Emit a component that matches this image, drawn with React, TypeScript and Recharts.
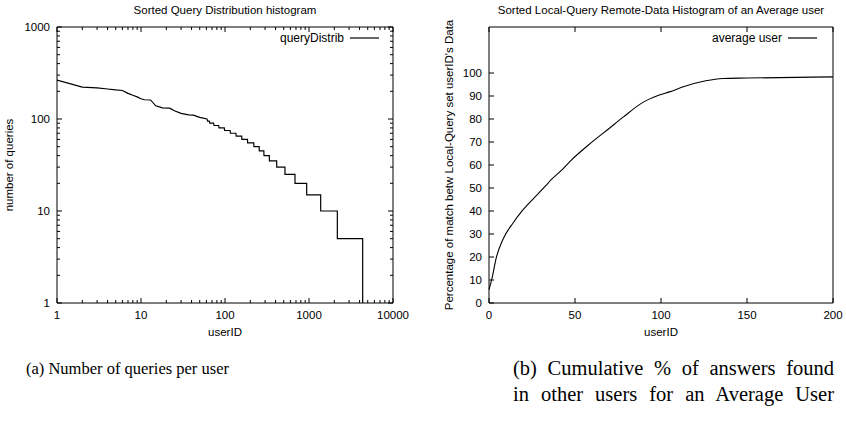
import React from "react";
import { LineChart, Line, XAxis, YAxis, Legend } from "recharts";

const SANS = '"Liberation Sans", Arial, Helvetica, sans-serif';
const SERIF = '"Liberation Serif", "Times New Roman", serif';

// (a) sorted number of queries per user
const headUsers = [1, 2, 3, 4, 5, 6, 7, 8, 9, 10, 11, 13, 15, 18, 22, 25, 30, 37, 42, 50, 61];
const headQueries = [265, 222, 218, 212, 207, 204, 190, 181, 174, 166, 162, 161, 139, 132, 131, 123, 115, 111, 110, 104, 100];
// below 100 the counts come in steps of 5, each held up to a last userID
const stepQueries = [95, 90, 85, 80, 75, 70, 65, 60, 55, 50, 45, 40, 35, 30, 25, 20, 15, 10, 5];
const stepLastUser = [65, 73, 84, 98, 115, 135, 158, 185, 220, 255, 290, 337, 412, 517, 681, 938, 1377, 2174, 4355];
const tailQueries = 1;

const decades = [1, 10, 100, 1000];
const minorSteps = [1, 2, 3, 4, 5, 6, 7, 8, 9];
const userTicks = [...decades.flatMap((d) => minorSteps.map((m) => m * d)), 10000];
const userLabels = [1, 10, 100, 1000, 10000];
const queryTicks = [...[1, 10, 100].flatMap((d) => minorSteps.map((m) => m * d)), 1000];
const queryLabels = [1, 10, 100, 1000];

// (b) cumulative % of answers found in other users
const rankUsers = [0, 1, 2, 4, 8, 14, 19, 26, 33, 36, 43, 47, 58, 70, 78, 89, 99, 105, 113, 126, 136, 150, 200];
const matchPct = [5.8, 8.5, 11.6, 19, 27.5, 34.8, 39.8, 45.5, 51, 53.5, 58.3, 61.5, 68.8, 76, 80.8, 87, 90.4, 91.8, 94, 96.6, 97.6, 97.8, 98.3];
const rankTicks = [0, 50, 100, 150, 200];
const pctTicks = [0, 10, 20, 30, 40, 50, 60, 70, 80, 90, 100];

const captionA = "(a) Number of queries per user";
const captionB = ["(b) Cumulative % of answers found", "in other users for an Average User"];

const queryData: { user: number; queries: number }[] = headUsers.map((u, i) => ({
  user: u,
  queries: headQueries[i],
}));
let prevUser = headUsers[headUsers.length - 1];
stepQueries.forEach((q, i) => {
  queryData.push({ user: prevUser + 1, queries: q });
  queryData.push({ user: stepLastUser[i], queries: q });
  prevUser = stepLastUser[i];
});
queryData.push({ user: prevUser + 1, queries: tailQueries });

const matchData = rankUsers.map((u, i) => ({ user: u, pct: matchPct[i] }));

const AXIS = { stroke: "#000", strokeWidth: 1 };
const FS = 11.5;

type Side = "bottom" | "top" | "left" | "right";

function makeTick(side: Side, labels: number[], major: number[]) {
  return (props: any) => {
    const { x, y, payload } = props;
    const v = payload.value;
    const len = major.includes(v) ? 5 : 3;
    const label = labels.includes(v) ? String(v) : "";
    if (side === "bottom")
      return (
        <g>
          <line x1={x} y1={y} x2={x} y2={y - len} stroke="#000" />
          <text x={x} y={y + 16} textAnchor="middle" fontSize={FS} fontFamily={SANS} fill="#000">
            {label}
          </text>
        </g>
      );
    if (side === "top") return <line x1={x} y1={y} x2={x} y2={y + len} stroke="#000" />;
    if (side === "left")
      return (
        <g>
          <line x1={x} y1={y} x2={x + len} y2={y} stroke="#000" />
          <text x={x - 7} y={y + 4} textAnchor="end" fontSize={FS} fontFamily={SANS} fill="#000">
            {label}
          </text>
        </g>
      );
    return <line x1={x} y1={y} x2={x - len} y2={y} stroke="#000" />;
  };
}

function legendContent(name: string) {
  return () => (
    <div style={{ display: "flex", alignItems: "center", fontFamily: SANS, fontSize: 12, color: "#000" }}>
      <span>{name}</span>
      <svg width={36} height={10}>
        <line x1={6} y1={5} x2={35} y2={5} stroke="#000" strokeWidth={1.2} />
      </svg>
    </div>
  );
}

const abs = (s: React.CSSProperties): React.CSSProperties => ({ position: "absolute", ...s });

function Title({ text, left, width }: { text: string; left: number; width: number }) {
  return (
    <div style={abs({ left, width, top: 3, textAlign: "center", fontFamily: SANS, fontSize: FS, lineHeight: "14px" })}>
      {text}
    </div>
  );
}

function VLabel({ text, cx, cy }: { text: string; cx: number; cy: number }) {
  return (
    <div
      style={abs({
        left: cx,
        top: cy,
        transform: "translate(-50%, -50%) rotate(-90deg)",
        whiteSpace: "nowrap",
        fontFamily: SANS,
        fontSize: FS,
        lineHeight: "14px",
      })}
    >
      {text}
    </div>
  );
}

export default function App() {
  return (
    <div style={abs({ left: 0, top: 0, width: 846, height: 425, background: "#fff", overflow: "hidden" })}>
      {/* (a) */}
      <div style={abs({ left: 0, top: 0 })}>
        <LineChart width={420} height={340} data={queryData} margin={{ top: 0, right: 0, bottom: 0, left: 0 }}>
          <XAxis
            xAxisId="b"
            dataKey="user"
            type="number"
            scale="log"
            domain={[1, 10000]}
            ticks={userTicks}
            interval={0}
            tick={makeTick("bottom", userLabels, userLabels)}
            tickLine={false}
            tickSize={0}
            tickMargin={0}
            axisLine={AXIS}
            height={37}
            allowDataOverflow
          />
          <XAxis
            xAxisId="t"
            orientation="top"
            dataKey="user"
            type="number"
            scale="log"
            domain={[1, 10000]}
            ticks={userTicks}
            interval={0}
            tick={makeTick("top", [], userLabels)}
            tickLine={false}
            tickSize={0}
            tickMargin={0}
            axisLine={AXIS}
            height={27}
            allowDataOverflow
          />
          <YAxis
            yAxisId="l"
            dataKey="queries"
            type="number"
            scale="log"
            domain={[1, 1000]}
            ticks={queryTicks}
            interval={0}
            tick={makeTick("left", queryLabels, queryLabels)}
            tickLine={false}
            tickSize={0}
            tickMargin={0}
            axisLine={AXIS}
            width={57}
            allowDataOverflow
          />
          <YAxis
            yAxisId="r"
            orientation="right"
            type="number"
            scale="log"
            domain={[1, 1000]}
            ticks={queryTicks}
            interval={0}
            tick={makeTick("right", [], queryLabels)}
            tickLine={false}
            tickSize={0}
            tickMargin={0}
            axisLine={AXIS}
            width={27}
            allowDataOverflow
          />
          <Line
            xAxisId="b"
            yAxisId="l"
            dataKey="queries"
            name="queryDistrib"
            type="linear"
            stroke="#000"
            strokeWidth={1.2}
            dot={false}
            isAnimationActive={false}
          />
          <Legend
            layout="horizontal"
            verticalAlign="middle"
            align="center"
            content={legendContent("queryDistrib")}
            wrapperStyle={{ left: "auto", right: 40, top: 31, width: "auto", height: "auto" }}
          />
        </LineChart>
        <Title text="Sorted Query Distribution histogram" left={57} width={336} />
        <VLabel text="number of queries" cx={9} cy={165} />
        <div style={abs({ left: 57, width: 336, top: 325, textAlign: "center", fontFamily: SANS, fontSize: FS, lineHeight: "14px" })}>
          userID
        </div>
      </div>

      {/* (b) */}
      <div style={abs({ left: 420, top: 0, width: 426, height: 340 })}>
        <LineChart width={426} height={340} data={matchData} margin={{ top: 0, right: 0, bottom: 0, left: 0 }}>
          <XAxis
            xAxisId="b"
            dataKey="user"
            type="number"
            domain={[0, 200]}
            ticks={rankTicks}
            interval={0}
            tick={makeTick("bottom", rankTicks, rankTicks)}
            tickLine={false}
            tickSize={0}
            tickMargin={0}
            axisLine={AXIS}
            height={37}
          />
          <XAxis
            xAxisId="t"
            orientation="top"
            dataKey="user"
            type="number"
            domain={[0, 200]}
            ticks={rankTicks}
            interval={0}
            tick={makeTick("top", [], rankTicks)}
            tickLine={false}
            tickSize={0}
            tickMargin={0}
            axisLine={AXIS}
            height={27}
          />
          <YAxis
            yAxisId="l"
            dataKey="pct"
            type="number"
            domain={[0, 120]}
            ticks={pctTicks}
            interval={0}
            tick={makeTick("left", pctTicks, pctTicks)}
            tickLine={false}
            tickSize={0}
            tickMargin={0}
            axisLine={AXIS}
            width={69}
          />
          <YAxis
            yAxisId="r"
            orientation="right"
            type="number"
            domain={[0, 120]}
            ticks={pctTicks}
            interval={0}
            tick={makeTick("right", [], pctTicks)}
            tickLine={false}
            tickSize={0}
            tickMargin={0}
            axisLine={AXIS}
            width={13}
          />
          <Line
            xAxisId="b"
            yAxisId="l"
            dataKey="pct"
            name="average user"
            type="monotone"
            stroke="#000"
            strokeWidth={1.1}
            dot={false}
            isAnimationActive={false}
          />
          <Legend
            layout="horizontal"
            verticalAlign="middle"
            align="center"
            content={legendContent("average user")}
            wrapperStyle={{ left: "auto", right: 28, top: 31, width: "auto", height: "auto" }}
          />
        </LineChart>
        <Title text="Sorted Local-Query Remote-Data Histogram of an Average user" left={69} width={344} />
        <VLabel text="Percentage of match betw Local-Query set userID's Data" cx={29} cy={165} />
        <div style={abs({ left: 69, width: 344, top: 325, textAlign: "center", fontFamily: SANS, fontSize: FS, lineHeight: "14px" })}>
          userID
        </div>
      </div>

      {/* captions */}
      <div style={abs({ left: 26, top: 356, fontFamily: SERIF, fontSize: 16.5, lineHeight: "26px", whiteSpace: "nowrap" })}>
        {captionA}
      </div>
      {captionB.map((line, i) => (
        <div
          key={line}
          style={abs({
            left: 513,
            top: 355 + i * 26,
            width: 321,
            fontFamily: SERIF,
            fontSize: 20.5,
            lineHeight: "26px",
            whiteSpace: "nowrap",
            textAlign: "justify",
            textAlignLast: "justify",
          })}
        >
          {line}
        </div>
      ))}
    </div>
  );
}
